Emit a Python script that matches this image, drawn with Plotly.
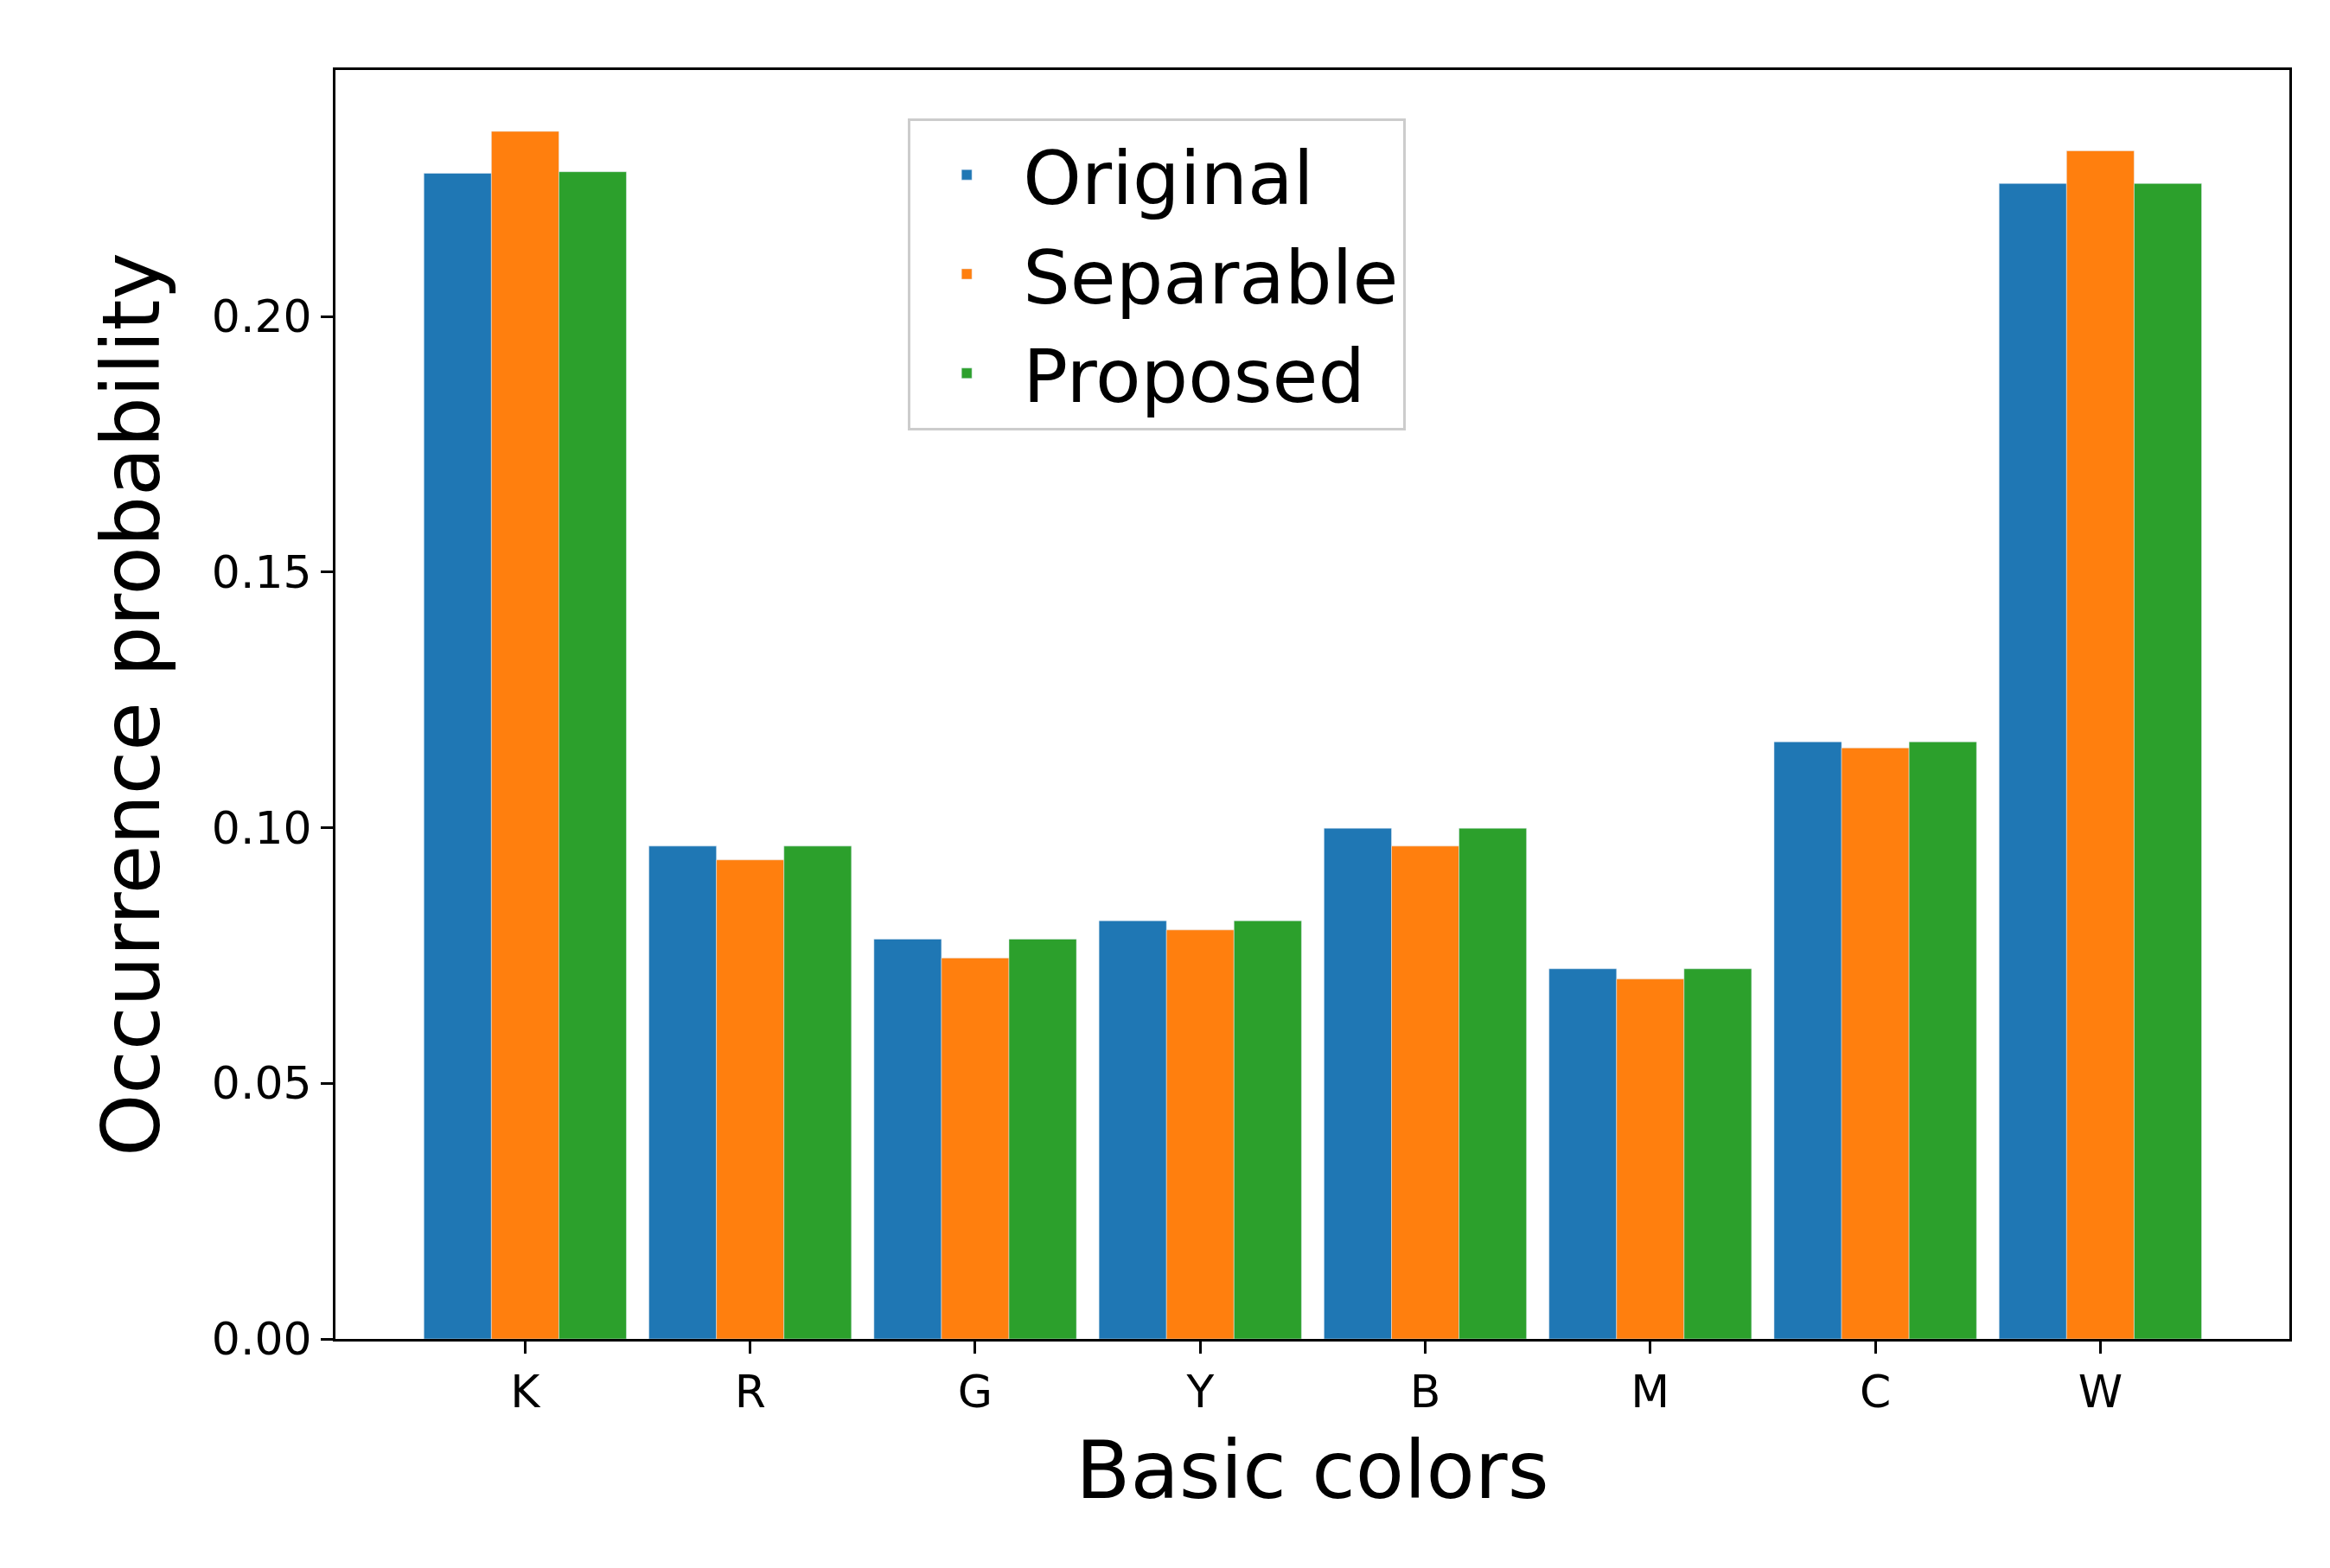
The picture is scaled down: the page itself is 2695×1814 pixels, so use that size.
import plotly.graph_objects as go

colors = ["K", "R", "G", "Y", "B", "M", "C", "W"]
original = [0.228, 0.0964, 0.0782, 0.0818, 0.0999, 0.0724, 0.1168, 0.226]
separable = [0.2362, 0.0937, 0.0745, 0.0800, 0.0964, 0.0704, 0.1156, 0.2324]
proposed = [0.2283, 0.0964, 0.0782, 0.0818, 0.0999, 0.0724, 0.1168, 0.226]

fig = go.Figure()
fig.add_bar(x=colors, y=original, name="Original", marker_color="#1f77b4")
fig.add_bar(x=colors, y=separable, name="Separable", marker_color="#ff7f0e")
fig.add_bar(x=colors, y=proposed, name="Proposed", marker_color="#2ca02c")

axis_common = dict(showline=True, linecolor="black", linewidth=3, mirror=True,
                   ticks="outside", ticklen=14, tickwidth=3, tickcolor="black",
                   showgrid=False, zeroline=False,
                   tickfont=dict(size=52, color="black"))

fig.update_layout(
    barmode="group", bargap=0.1, bargroupgap=0,
    width=2695, height=1814,
    plot_bgcolor="white", paper_bgcolor="white",
    font=dict(family="DejaVu Sans", color="black"),
    margin=dict(l=380, r=55, t=73, b=273),
    xaxis=dict(range=[-0.843, 7.84], title=dict(text="Basic colors", font=dict(size=92), standoff=30), **axis_common),
    yaxis=dict(range=[0, 0.2482], tickvals=[0, 0.05, 0.10, 0.15, 0.20], tickformat=".2f",
               title=dict(text="Occurrence probability", font=dict(size=92), standoff=30), **axis_common),
    legend=dict(x=0.293, y=0.962, xanchor="left", yanchor="top",
                bordercolor="#cccccc", borderwidth=3, bgcolor="white",
                font=dict(size=86), itemwidth=120),
)

fig.write_html("out.html")
